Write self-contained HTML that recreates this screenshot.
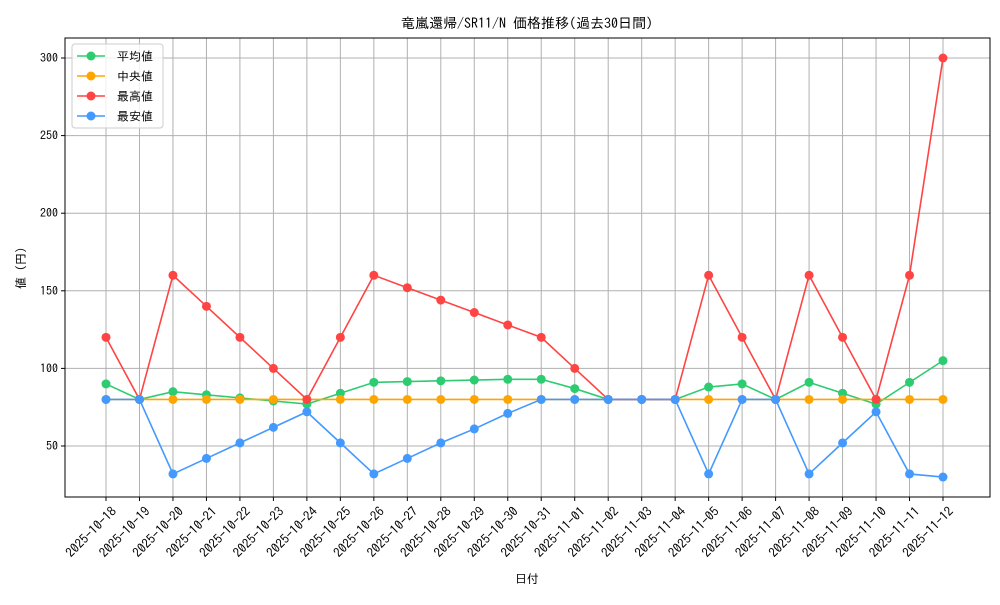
<!DOCTYPE html>
<html><head><meta charset="utf-8"><style>
body{margin:0;background:#fff;}
svg text{font-family:"IPAGothic","Noto Sans CJK JP",monospace;font-size:12px;fill:#000;}
</style></head><body>
<svg id="c" width="1000" height="600" xmlns="http://www.w3.org/2000/svg"></svg>
<script>
const L=65,R=990,T=38,B=497;
const X=i=>106+i*33.48, Y=v=>58+(300-v)*1.552;
const dates=[];const d0=new Date(Date.UTC(2025,9,18));
for(let i=0;i<26;i++){const d=new Date(d0.getTime()+i*864e5);dates.push(d.toISOString().slice(0,10));}
const S=[
["#2ecc71",[90,80,85,83,81,79,77,84,91,91.5,92,92.5,93,93,87,80,80,80,88,90,80,91,84,77,91,105]],
["#ffa500",Array(26).fill(80)],
["#ff4444",[120,80,160,140,120,100,80,120,160,152,144,136,128,120,100,80,80,80,160,120,80,160,120,80,160,300]],
["#4499ff",[80,80,32,42,52,62,72,52,32,42,52,61,71,80,80,80,80,80,32,80,80,32,52,72,32,30]]];
let h='';
for(let i=0;i<26;i++){const x=X(i);h+=`<line x1="${x}" y1="${T}" x2="${x}" y2="${B}" stroke="#b0b0b0" stroke-width="1"/>`;
h+=`<line x1="${x}" y1="${B}" x2="${x}" y2="${B+4}" stroke="#000"/>`;
h+=`<text transform="translate(${x+5},${B+9}) rotate(-45)" text-anchor="end" dominant-baseline="hanging" style="font-size:13px">${dates[i]}</text>`;}
for(let v=50;v<=300;v+=50){const y=Y(v);h+=`<line x1="${L}" y1="${y}" x2="${R}" y2="${y}" stroke="#b0b0b0"/>`;
h+=`<line x1="${L-4}" y1="${y}" x2="${L}" y2="${y}" stroke="#000"/><text x="${L-7}" y="${y+4}" text-anchor="end">${v}</text>`;}
for(const [c,d] of S){h+=`<polyline fill="none" stroke="${c}" stroke-width="1.6" points="${d.map((v,i)=>X(i)+','+Y(v)).join(' ')}"/>`;
d.forEach((v,i)=>h+=`<circle cx="${X(i)}" cy="${Y(v)}" r="4.5" fill="${c}"/>`);}
h+=`<rect x="${L}" y="${T}" width="${R-L}" height="${B-T}" fill="none" stroke="#000" stroke-width="1"/>`;
h+=`<rect x="72" y="44" width="91" height="84" rx="3" fill="#fff" fill-opacity="0.8" stroke="#ccc"/>`;
["平均値","中央値","最高値","最安値"].forEach((t,i)=>{const y=56+i*20,c=S[i][0];
h+=`<line x1="77" y1="${y}" x2="105" y2="${y}" stroke="${c}" stroke-width="1.6"/><circle cx="91" cy="${y}" r="4.5" fill="${c}"/><text x="117" y="${y+4.5}">${t}</text>`;});
h+=`<text x="527" y="28" text-anchor="middle" style="font-size:14px">竜嵐還帰/SR11/N 価格推移(過去30日間)</text>`;
h+=`<text x="527" y="583" text-anchor="middle">日付</text>`;
h+=`<text transform="translate(25,268) rotate(-90)" text-anchor="middle">値 (円)</text>`;
document.getElementById('c').innerHTML=h;
</script>
</body></html>
